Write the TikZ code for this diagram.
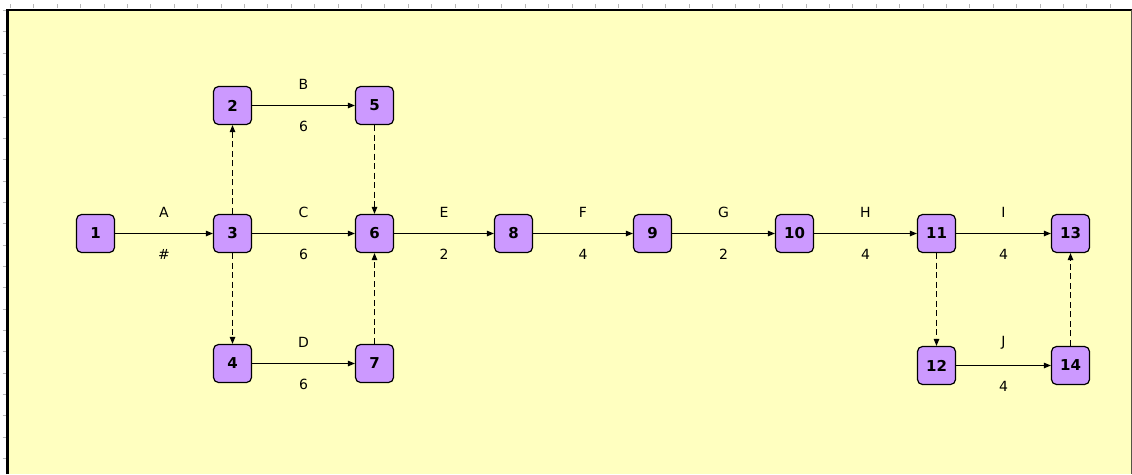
\documentclass[tikz,border=0pt]{standalone}
\usepackage{fontspec}
\setmainfont{DejaVu Sans}
\usetikzlibrary{arrows.meta}
\definecolor{bgyellow}{HTML}{FFFFC0}
\definecolor{evfill}{HTML}{CC99FF}
\definecolor{tickgray}{HTML}{B8B8B8}
\definecolor{rborder}{HTML}{555544}
\begin{document}
\begin{tikzpicture}[x=1pt,y=-1pt,
  ev/.style={draw=black, line width=1.2pt, fill=evfill, rounded corners=5pt,
    minimum width=38pt, minimum height=38pt, inner sep=0pt,
    font=\fontsize{15}{15}\selectfont\bfseries},
  act/.style={line width=1pt, -{Triangle[length=7pt,width=5.5pt]}},
  dum/.style={act, dash pattern=on 6pt off 3.5pt},
  lab/.style={font=\fontsize{14}{14}\selectfont, inner sep=0pt},
  up/.style={lab, above=15.5pt},
  dn/.style={lab, below=15.5pt}]
\useasboundingbox (0,0) rectangle (1132,474);
\fill[white] (0,0) rectangle (1132,474);
\fill[bgyellow] (8,10) rectangle (1131,474);
\foreach \k in {0,...,47} \draw[tickgray, line width=1pt] ({10.5+23.4*\k},4) -- ++(0,3.5);
\foreach \k in {0,...,21} \draw[tickgray, line width=1pt] (2.5,{10.5+21.33*\k}) -- ++(3.5,0);
\draw[line width=2.5pt] (7.5,474) -- (7.5,10) -- (1131.5,10);
\draw[rborder, line width=1pt] (1131.3,10) -- (1131.3,474);

\node[ev] (n1) at (95.5,233.5) {1};
\node[ev] (n2) at (232.5,105.5) {2};
\node[ev] (n3) at (232.5,233.5) {3};
\node[ev] (n4) at (232.5,363.5) {4};
\node[ev] (n5) at (374.5,105.5) {5};
\node[ev] (n6) at (374.5,233.5) {6};
\node[ev] (n7) at (374.5,363.5) {7};
\node[ev] (n8) at (513.5,233.5) {8};
\node[ev] (n9) at (652.5,233.5) {9};
\node[ev] (n10) at (794.5,233.5) {10};
\node[ev] (n11) at (936.5,233.5) {11};
\node[ev] (n12) at (936.5,365.5) {12};
\node[ev] (n13) at (1070.5,233.5) {13};
\node[ev] (n14) at (1070.5,365.5) {14};

\draw[act] (n1) -- node[up]{A} node[dn]{\#} (n3);
\draw[act] (n2) -- node[up]{B} node[dn]{6} (n5);
\draw[act] (n3) -- node[up]{C} node[dn]{6} (n6);
\draw[act] (n4) -- node[up]{D} node[dn]{6} (n7);
\draw[act] (n6) -- node[up]{E} node[dn]{2} (n8);
\draw[act] (n8) -- node[up]{F} node[dn]{4} (n9);
\draw[act] (n9) -- node[up]{G} node[dn]{2} (n10);
\draw[act] (n10) -- node[up]{H} node[dn]{4} (n11);
\draw[act] (n11) -- node[up]{I} node[dn]{4} (n13);
\draw[act] (n12) -- node[up]{J} node[dn]{4} (n14);

\draw[dum] (n3) -- (n2);
\draw[dum] (n3) -- (n4);
\draw[dum] (n5) -- (n6);
\draw[dum] (n7) -- (n6);
\draw[dum] (n11) -- (n12);
\draw[dum] (n14) -- (n13);
\end{tikzpicture}
\end{document}
